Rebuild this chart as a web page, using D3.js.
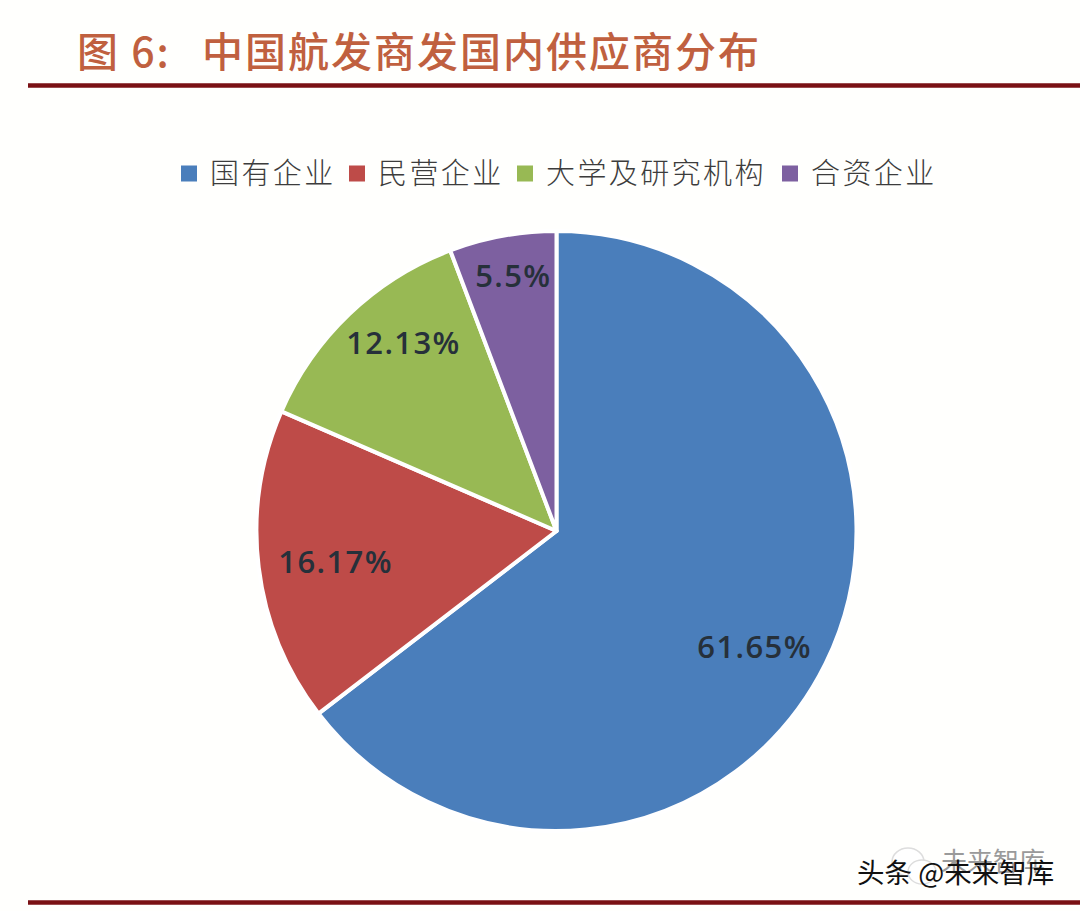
<!DOCTYPE html>
<html><head><meta charset="utf-8">
<script src="https://cdnjs.cloudflare.com/ajax/libs/d3/7.8.5/d3.min.js"></script>
<style>html,body{margin:0;padding:0;background:#fff}svg{display:block}</style>
</head><body><svg id="c" width="1080" height="911"></svg>
<script>
const titlePrefix = "图 6:";
const titleMain = "中国航发商发国内供应商分布";
const categories = ["国有企业","民营企业","大学及研究机构","合资企业"];
const values = [61.65,16.17,12.13,5.5];
const valueLabels = ["61.65%","16.17%","12.13%","5.5%"];
const colors = ["#4a7ebb","#be4b48","#98b954","#7d60a0"];
const legendX = [181,349,517,782];
const labelShift = [[3,20],[-5,5],[-3,-30],[-4,-41]];
const watermarkBack = "未来智库";
const watermarkFront = "头条 @未来智库";

const svg = d3.select("#c");
svg.append("rect").attr("width",1080).attr("height",911).attr("fill","#fffffd");
const titleFont = "'Noto Sans CJK SC'";
svg.append("text").attr("x",77).attr("y",67).attr("font-family",titleFont).attr("font-size",41)
  .attr("font-weight",500).attr("letter-spacing",2).attr("fill","#c0603f").text(titlePrefix);
svg.append("text").attr("x",202).attr("y",67).attr("font-family",titleFont).attr("font-size",41)
  .attr("font-weight",500).attr("letter-spacing",2).attr("fill","#c0603f").text(titleMain);
[[28,85.5],[28,902.5]].forEach(([x,y])=>svg.append("line").attr("x1",x).attr("x2",1080).attr("y1",y).attr("y2",y)
  .attr("stroke","#7a1114").attr("stroke-width",4.5));

const leg = svg.append("g");
categories.forEach((c,i)=>{
  leg.append("rect").attr("x",legendX[i]).attr("y",165.5).attr("width",16).attr("height",16).attr("fill",colors[i]);
  leg.append("text").attr("x",legendX[i]+29).attr("y",184).attr("font-family","'Noto Sans CJK SC'")
    .attr("font-size",29).attr("letter-spacing",2.4).attr("font-weight",300).attr("fill","#3c3c3c").text(c);
});

const cx=556.5, cy=531, r=300;
const pie = d3.pie().sort(null)(values);
const arc = d3.arc().innerRadius(0).outerRadius(r);
const g = svg.append("g").attr("transform",`translate(${cx},${cy})`);
g.selectAll("path").data(pie).join("path").attr("d",arc).attr("fill",(d,i)=>colors[i])
  .attr("stroke","#fff").attr("stroke-width",4).attr("stroke-linejoin","round");
const labelArc = d3.arc().innerRadius(r*0.725).outerRadius(r*0.725);
g.selectAll("text").data(pie).join("text")
  .attr("transform",(d,i)=>{const p=labelArc.centroid(d);return `translate(${p[0]+labelShift[i][0]},${p[1]+labelShift[i][1]})`;})
  .attr("text-anchor","middle").attr("dy","0.35em")
  .attr("font-family","'Open Sans'").attr("font-size",31).attr("letter-spacing",1.4).attr("font-weight",600).attr("fill","#26303a")
  .text((d,i)=>valueLabels[i]);

// faint WeChat-style bubbles of the watermark
const wm = svg.append("g").attr("fill","#fff").attr("stroke","#ddd").attr("stroke-width",1.5);
wm.append("ellipse").attr("cx",908).attr("cy",862).attr("rx",16).attr("ry",14);
wm.append("ellipse").attr("cx",922).attr("cy",872).attr("rx",14).attr("ry",12);
svg.append("text").attr("x",941).attr("y",871).attr("font-family","'Noto Sans CJK SC'").attr("font-size",26)
  .attr("fill","#9a9a9a").text(watermarkBack);
svg.append("text").attr("x",857).attr("y",883).attr("font-family","'Noto Sans CJK SC'").attr("font-size",27.5)
  .attr("fill","#111").text(watermarkFront);
</script></body></html>
